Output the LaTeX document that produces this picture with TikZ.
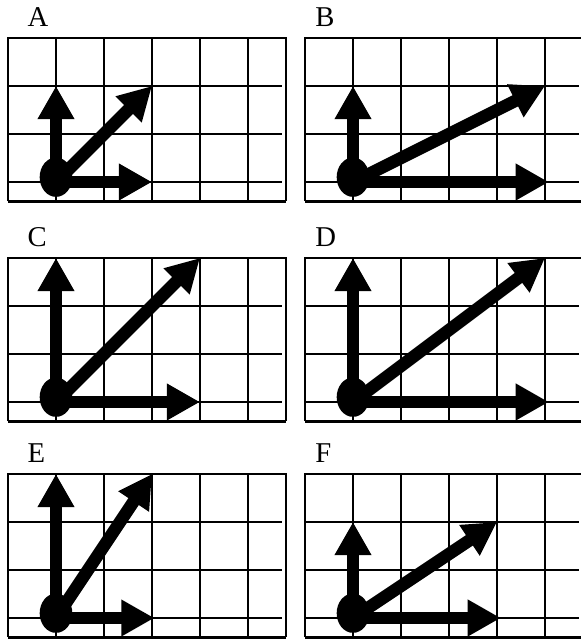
\documentclass[tikz,border=0pt]{standalone}
\usepackage{fontspec}
\setmainfont{Liberation Serif}
\usepackage{tikz}
\usetikzlibrary{arrows.meta, shapes.geometric}

\begin{document}
\begin{tikzpicture}[font=\fontsize{17}{20}\selectfont,
  gridline/.style={line width=0.9pt},
  frame/.style={line width=1.2pt},
  base/.style={line width=1.8pt},
  vec/.style={line width=0.26cm, -{Triangle[length=0.69cm, width=0.72cm]}},
  dot/.style={ellipse, fill, inner sep=0pt, minimum width=0.68cm, minimum height=0.82cm},
  lbl/.style={anchor=base west, inner sep=0pt}]
\useasboundingbox (-1.1667,-9.5208) rectangle (10.9167,3.7917);
% name / origin / up / diagonal end / right / label x
\foreach \name/\ox/\oy/\up/\dx/\dy/\rt/\lx in {
    A/0/0/2/2/2/2/-0.6,
    B/6.1875/0/2/4/2/4.08/-0.79,
    C/0/-4.583/3/3/3/3/-0.6,
    D/6.1875/-4.583/3/4/3/4.08/-0.79,
    E/0/-9.083/3/2/3/2.05/-0.6,
    F/6.1875/-9.083/2/3/2/3.08/-0.79} {
  \begin{scope}[shift={(\ox,\oy)}]
    \node[lbl] (\name-lbl) at (\lx,3.24) {\name};
    % grid
    \foreach \x in {0,...,4}
      \draw[gridline] (\x,-0.4) -- (\x,3);
    \foreach \y in {0,1,2}
      \draw[gridline] (-1,\y) -- (4.7,\y);
    \draw[frame] (-1,-0.4) -- (-1,3) -- (4.8,3) -- (4.8,-0.4);
    \draw[base] (-1,-0.4) -- (4.8,-0.4);
    % vectors
    \coordinate (\name-o) at (0,0);
    \coordinate (\name-up) at (0,\up);
    \coordinate (\name-diag) at (\dx,\dy);
    \coordinate (\name-rt) at (\rt,0);
    \draw[vec] (\name-o) -- (\name-up);
    \draw[vec] (\name-o) -- (\name-diag);
    \draw[vec] (\name-o) -- (\name-rt);
    \node[dot] (\name-dot) at (0,0.1) {};
  \end{scope}
}
\end{tikzpicture}
\end{document}
